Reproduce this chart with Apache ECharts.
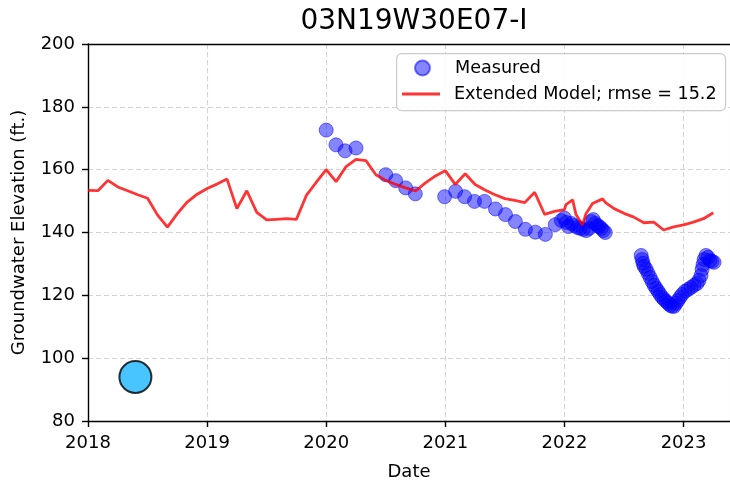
<!DOCTYPE html>
<html><head><meta charset="utf-8">
<script src="https://cdn.jsdelivr.net/npm/echarts/dist/echarts.min.js"></script>
<style>html,body{margin:0;padding:0;background:#fff}#c{width:730px;height:486px}</style>
</head><body><div id="c"></div>
<script>
const titleText = '03N19W30E07-I';
const xTicks = [2018, 2019, 2020, 2021, 2022, 2023];
const yTicks = [80, 100, 120, 140, 160, 180, 200];

const modelDates = [2018.0,2018.083,2018.167,2018.25,2018.333,2018.417,2018.5,2018.583,2018.667,2018.75,2018.833,2018.917,
  2019.0,2019.083,2019.167,2019.25,2019.333,2019.417,2019.5,2019.583,2019.667,2019.75,2019.833,2019.917,
  2020.0,2020.083,2020.167,2020.25,2020.333,2020.417,2020.5,2020.583,2020.667,2020.75,2020.833,2020.917,
  2021.0,2021.083,2021.167,2021.25,2021.333,2021.417,2021.5,2021.583,2021.667,2021.75,2021.833,2021.917,
  2022.0,2022.013,2022.069,2022.097,2022.152,2022.181,2022.236,2022.32,2022.348,2022.417,2022.5,2022.583,2022.667,2022.75,2022.833,2022.917,
  2023.0,2023.083,2023.167,2023.25];
const modelValues = [153.4,153.3,156.6,154.5,153.3,152.0,150.9,145.6,141.7,146.0,149.7,152.2,
  154.0,155.4,157.0,147.6,153.3,146.4,144.0,144.2,144.4,144.2,151.8,156.0,
  160.0,156.2,161.0,163.3,162.9,158.4,156.6,155.3,154.2,153.2,155.8,158.0,
  159.7,155.3,158.7,155.3,153.5,152.0,150.8,150.2,149.5,152.8,145.8,146.7,
  147.3,148.9,150.4,145.7,142.4,146.0,149.2,150.7,149.4,147.6,146.1,144.9,143.1,143.3,140.8,141.8,
  142.4,143.3,144.4,146.3];

const measuredDates = [2020.0,2020.082,2020.158,2020.25,2020.5,2020.583,2020.667,2020.748,
  2020.994,2021.086,2021.162,2021.245,2021.329,2021.421,2021.505,2021.588,2021.672,2021.756,2021.84,2021.923,
  2021.974,2021.999,2022.016,2022.033,2022.058,2022.083,2022.108,2022.133,2022.158,2022.183,2022.209,2022.225,2022.242,2022.259,2022.276,2022.292,2022.309,2022.326,2022.343,
  2022.644,2022.652,2022.660,2022.669,2022.686,2022.702,2022.719,2022.736,2022.753,2022.770,2022.786,2022.803,2022.820,2022.837,2022.854,2022.870,2022.887,2022.904,2022.921,2022.938,2022.954,2022.971,2022.988,
  2023.013,2023.038,2023.063,2023.089,2023.114,2023.130,2023.147,2023.156,2023.164,2023.173,2023.189,2023.206,2023.222,2023.239,2023.256];
const measuredValues = [172.6,167.9,166.0,166.9,158.4,156.5,154.2,152.3,
  151.4,153.1,151.4,149.9,149.9,147.5,145.7,143.5,141.0,140.1,139.4,142.5,
  143.8,144.6,143.2,141.9,142.9,142.2,141.6,141.3,141.0,140.6,141.3,143.5,144.1,142.9,142.2,141.9,141.3,140.6,140.0,
  132.7,131.4,130.2,129.2,128.3,127.0,125.7,124.4,123.2,122.2,121.3,120.3,119.4,118.7,118.1,117.5,116.8,116.5,116.5,117.5,118.4,119.4,120.3,
  121.3,121.9,122.5,123.2,123.8,124.8,126.3,128.3,129.8,131.4,132.7,132.1,131.1,130.8,130.5];

const wellDates = [2018.398];
const wellValues = [94.0];

const measuredName = 'Measured';
const modelName = 'Extended Model; rmse = 15.2';

const FONT = 'DejaVu Sans';
const chart = echarts.init(document.getElementById('c'), null, {renderer: 'canvas'});
const zip = (a, b) => a.map((v, i) => [v, b[i]]);
const xMax = 2023.39;

chart.setOption({
  animation: false,
  backgroundColor: '#fff',
  title: {
    text: titleText, left: 409, top: 3, textAlign: 'center',
    textStyle: {fontFamily: FONT, fontSize: 28, fontWeight: 'normal', color: '#000'}
  },
  grid: {left: 88, right: -1, top: 44, bottom: 64, containLabel: false},
  xAxis: [{
    type: 'value', min: xTicks[0], max: xMax, interval: 1,
    name: 'Date', nameLocation: 'middle', nameGap: 42,
    nameTextStyle: {fontFamily: FONT, fontSize: 18, color: '#000'},
    axisLine: {lineStyle: {color: '#000', width: 1.4}},
    axisTick: {length: 6, lineStyle: {color: '#000', width: 1.4}},
    axisLabel: {fontFamily: FONT, fontSize: 18, color: '#000', margin: 13, showMaxLabel: false,
      formatter: v => xTicks.includes(Math.round(v * 1000) / 1000) ? String(v) : ''},
    splitLine: {show: true, lineStyle: {color: '#d3d3d3', width: 1.1, type: [5, 3]}}
  }, {
    type: 'value', position: 'top', min: xTicks[0], max: xMax, z: 5,
    axisLine: {show: true, lineStyle: {color: '#000', width: 1.4}},
    axisTick: {show: false}, axisLabel: {show: false}, splitLine: {show: false}
  }],
  yAxis: {
    type: 'value', min: yTicks[0], max: yTicks[yTicks.length - 1], interval: 20,
    name: 'Groundwater Elevation (ft.)', nameLocation: 'middle', nameGap: 60,
    nameTextStyle: {fontFamily: FONT, fontSize: 18, color: '#000'},
    axisLine: {show: true, lineStyle: {color: '#000', width: 1.4}},
    axisTick: {show: true, length: 6, lineStyle: {color: '#000', width: 1.4}},
    axisLabel: {fontFamily: FONT, fontSize: 18, color: '#000', margin: 13},
    splitLine: {show: true, lineStyle: {color: '#d3d3d3', width: 1.1, type: [5, 3]}}
  },
  legend: [
    {data: [measuredName], left: 414, top: 59, padding: 0, itemWidth: 15, itemHeight: 15, icon: 'circle',
      textStyle: {fontFamily: FONT, fontSize: 17.6, color: '#000', padding: [0, 0, 0, 20]}},
    {data: [{name: modelName, icon: 'rect'}], left: 402, top: 85, padding: 0, itemWidth: 38, itemHeight: 3,
      textStyle: {fontFamily: FONT, fontSize: 17.6, color: '#000', padding: [0, 0, 0, 9]}}
  ],
  graphic: [{
    type: 'rect', left: 396, top: 53, z: 4,
    shape: {width: 329, height: 57, r: 5},
    style: {fill: 'rgba(255,255,255,0.85)', stroke: '#cccccc', lineWidth: 1.2}
  }],
  series: [
    {
      name: measuredName, type: 'scatter', data: zip(measuredDates, measuredValues),
      symbol: 'circle', symbolSize: 14, z: 2,
      itemStyle: {color: 'rgba(0,0,255,0.6)', borderColor: 'rgba(0,0,255,0.65)', borderWidth: 1}
    },
    {
      name: modelName, type: 'line', data: zip(modelDates, modelValues),
      showSymbol: false, symbol: 'none', z: 3,
      lineStyle: {color: 'rgba(255,0,0,0.8)', width: 2.8},
      itemStyle: {color: 'rgba(255,0,0,0.8)'}
    },
    {
      name: 'well', type: 'scatter', data: zip(wellDates, wellValues),
      symbol: 'circle', symbolSize: 32, z: 5,
      itemStyle: {color: '#1ab6ff', borderColor: '#000', borderWidth: 2}
    }
  ]
});
</script></body></html>
